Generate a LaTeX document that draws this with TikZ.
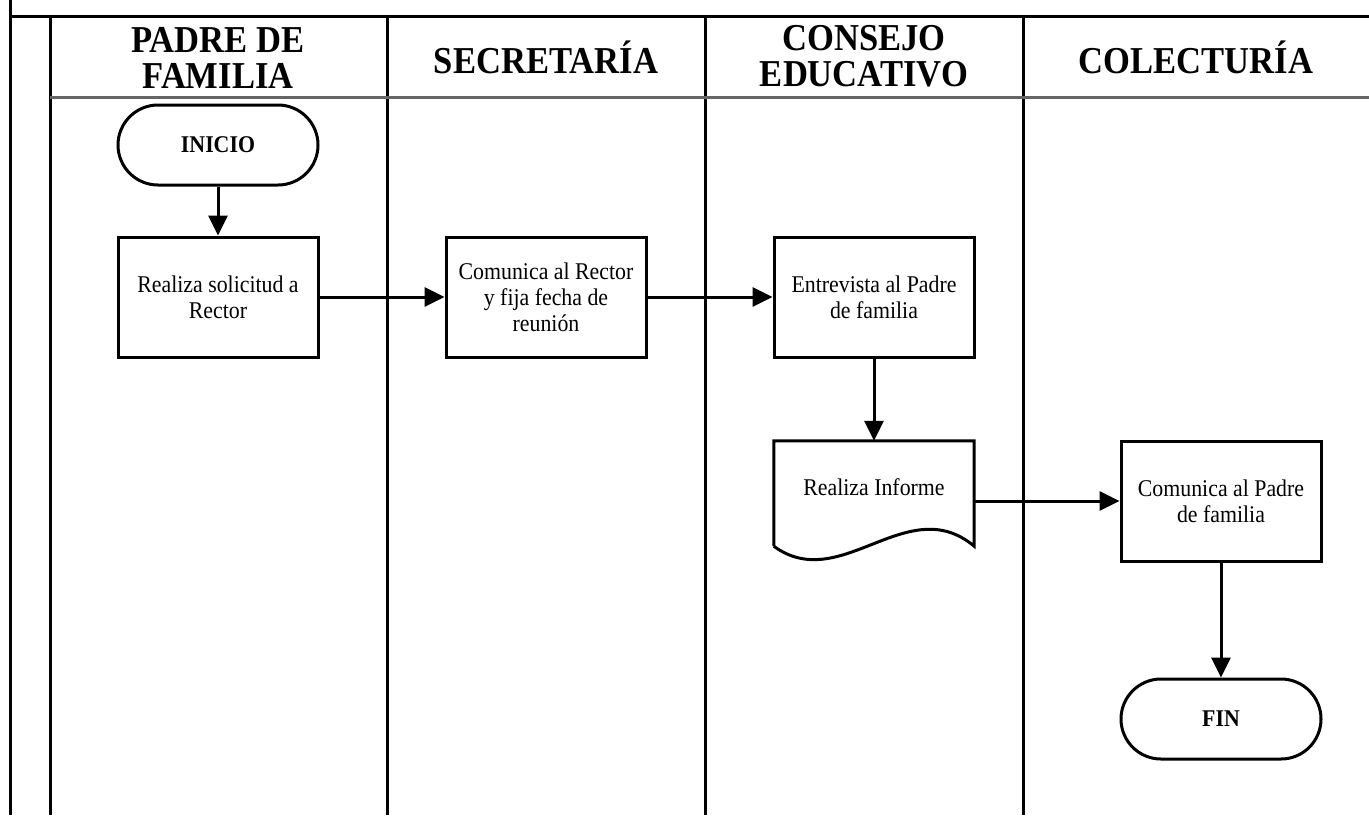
\documentclass[tikz,border=0pt]{standalone}
\usepackage{fontspec}
\setmainfont{Liberation Serif}
\newfontfamily\tallserif[FakeStretch=0.91]{Liberation Serif}
\usetikzlibrary{arrows.meta,calc}
\begin{document}
\begin{tikzpicture}[x=1pt,y=-1pt,
  laneline/.style={line width=3pt},
  hdr/.style={font=\tallserif\bfseries\fontsize{38}{36}\selectfont, align=center, inner sep=0pt},
  procbox/.style={draw, line width=3pt, minimum width=200pt, minimum height=120pt,
    inner sep=0pt, align=center, font=\tallserif\fontsize{24}{26}\selectfont},
  term/.style={draw, line width=3pt, rounded corners=40pt, minimum width=200pt,
    minimum height=80pt, inner sep=0pt, font=\tallserif\bfseries\fontsize{24}{26}\selectfont},
  flow/.style={line width=3pt, -{Triangle[length=20pt,width=19pt]}}]

\useasboundingbox (0,0) rectangle (1369,815);
\fill[white] (0,0) rectangle (1369,815);

% swimlane frame
\coordinate (frameTL) at (10,16);
\coordinate (frameTR) at (1369,16);
\draw[laneline] (10,0) -- (10,815);
\draw[laneline] (frameTL) -- (frameTR);
\draw[laneline] (50,16) -- (50,815);
\draw[laneline] (387,16) -- (387,815);
\draw[laneline] (705,16) -- (705,815);
\draw[laneline] (1023,16) -- (1023,815);
\draw[laneline, black!60] (50,97) -- (1369,97);

% lane headers
\node[hdr] (hPadre) at (218,58) {PADRE DE\\FAMILIA};
\node[hdr] (hSecre) at (546,57) {SECRETARÍA};
\node[hdr] (hConse) at (864,56) {CONSEJO\\EDUCATIVO};
\node[hdr] (hColec) at (1196,57) {COLECTURÍA};

% flow steps
\node[term] (inicio) at (218,145) {INICIO};
\node[procbox] (solicitud) at (218,297) {Realiza solicitud a\\Rector};
\node[procbox] (comunica) at (546,297) {Comunica al Rector\\y fija fecha de\\reunión};
\node[procbox] (entrevista) at (874,297) {Entrevista al Padre\\de familia};

% document shape with wavy bottom
\node[minimum width=200pt, minimum height=105pt, inner sep=0pt] (doc) at (874,493.5) {};
\draw[line width=3pt, line join=miter]
  (doc.south west) -- (doc.north west) -- (doc.north east) -- (doc.south east)
  .. controls ($(doc.south east)+(-67,-56)$) and ($(doc.south west)+(67,49)$) .. (doc.south west);
\node[font=\tallserif\fontsize{24}{26}\selectfont, inner sep=0pt] (doctext) at (874,487) {Realiza Informe};

\node[procbox] (padre) at (1221,501) {Comunica al Padre\\de familia};
\node[term] (fin) at (1221,719) {FIN};

% connectors
\draw[flow] (inicio) -- (solicitud);
\draw[flow] (solicitud) -- (comunica);
\draw[flow] (comunica) -- (entrevista);
\draw[flow] (entrevista) -- (doc);
\draw[flow] (doc.east |- padre.west) -- (padre.west);
\draw[flow] (padre) -- (fin);
\end{tikzpicture}
\end{document}
